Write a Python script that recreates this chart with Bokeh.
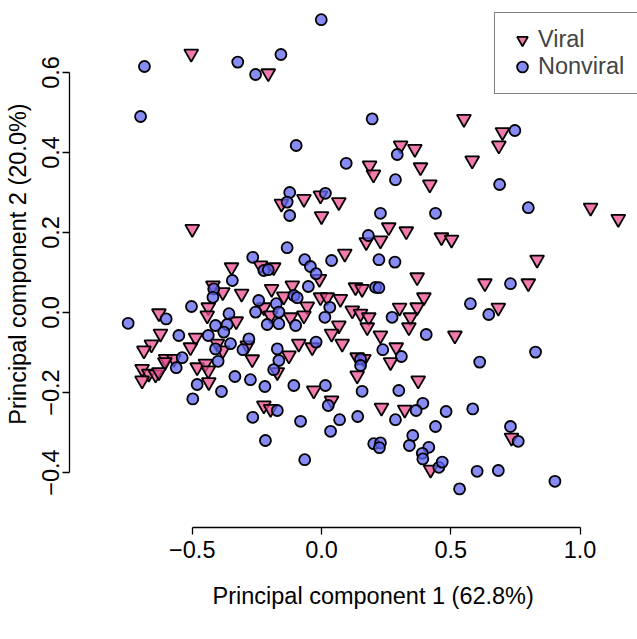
import math
from bokeh.plotting import figure
from bokeh.models import Range1d, FixedTicker, Legend, LegendItem, ColumnDataSource, Title
from bokeh.embed import file_html
from bokeh.resources import INLINE

# ---- data ----
viral_pc1 = [-0.504, -0.206, 0.186, 0.551, 0.700, 0.686, 0.306, 0.361, 0.583, 0.383, 0.201,
             -0.500, -0.348, -0.420, -0.382, -0.309, -0.438, -0.442, -0.629, -0.330,
             -0.155, -0.068, -0.004, 0.067, 0.000, 0.173, 0.090, -0.008, -0.236, -0.185,
             -0.113, -0.193, -0.146, -0.004, 0.022, 0.073, -0.223, -0.055, -0.068, -0.120,
             -0.197, 0.067, 0.1315, 0.157, 0.119, 0.151, 0.183, 0.177,
             0.419, 0.260, 0.328, 0.228, 0.464, 0.503, 0.370, 0.632, 0.396, 0.302, 0.370,
             0.344, 0.338, 0.684,
             1.041, 1.148, 0.834, 0.800,
             -0.623, -0.487, -0.658, -0.687, -0.507, -0.403, -0.382, -0.603, -0.571, -0.606,
             -0.694, -0.668, -0.642, -0.694, -0.629, -0.481, -0.449, -0.438, -0.436,
             -0.126, -0.088, -0.036, -0.268, -0.287, 0.039, 0.080, -0.171, 0.138, 0.164,
             0.138, -0.030, -0.223, -0.197, 0.039,
             0.228, 0.516, 0.289, 0.267, 0.374, 0.232, 0.322, 0.422,
             0.735]
viral_pc2 = [0.647, 0.598, 0.3675, 0.484, 0.451, 0.4175, 0.4175, 0.409, 0.380, 0.363, 0.345,
             0.209, 0.113, 0.0675, 0.051, 0.047, 0.013, -0.0075, -0.002, -0.022,
             0.272, 0.284, 0.2925, 0.276, 0.241, 0.176, 0.147, 0.084, 0.1175, 0.113,
             0.0675, 0.059, 0.040, 0.038, 0.038, 0.034, 0.013, 0.015, -0.0075, -0.012,
             -0.0075, -0.0325, 0.063, 0.059, 0.005, -0.003, -0.012, -0.037,
             0.320, 0.213, 0.203, 0.180, 0.188, 0.182, 0.088, 0.073, 0.038, 0.012, 0.013,
             -0.012, -0.037, 0.012,
             0.262, 0.234, 0.132, 0.073,
             -0.053, -0.063, -0.080, -0.095, -0.087, -0.078, -0.095, -0.116, -0.116, -0.124,
             -0.141, -0.153, -0.155, -0.170, -0.149, -0.137, -0.128, -0.145, -0.174,
             -0.1075, -0.078, -0.087, -0.117, -0.0825, -0.053, -0.078, -0.149, -0.112, -0.116,
             -0.1575, -0.195, -0.2325, -0.241, -0.220,
             -0.0575, -0.0575, -0.087, -0.124, -0.170, -0.238, -0.243, -0.393,
             -0.313]

nonviral_pc1 = [-0.685, -0.324, -0.700, -0.001, -0.157, -0.255, 0.196, -0.098, 0.0955, 0.748, 0.293,
                -0.345, -0.417, -0.420, -0.503, -0.358, -0.601, -0.748, -0.410, -0.365,
                -0.123, -0.133, 0.015, -0.123, 0.181, -0.133, -0.266, 0.039, -0.065, -0.043,
                -0.021, -0.223, -0.206, -0.051, -0.107, -0.094, -0.243, -0.175, -0.165, 0.032,
                0.013, -0.255, -0.210, -0.165, -0.100, 0.209,
                0.286, 0.689, 0.228, 0.441, 0.222, 0.284, 0.222, 0.273, 0.576, 0.647,
                0.800, 0.731,
                -0.552, -0.438, -0.378, -0.410, -0.352, -0.304, -0.539, -0.562, -0.400, -0.335,
                -0.481, -0.387, -0.498,
                -0.171, -0.165, -0.021, -0.281, -0.185, -0.275, -0.219, -0.107, 0.015, 0.151,
                0.151, 0.157, -0.171, -0.266, 0.026, -0.081, 0.070, 0.140, 0.035, -0.217, -0.065,
                0.405, 0.237, 0.309, 0.612, 0.299, 0.392, 0.366, 0.482, 0.585, 0.286, 0.441,
                0.353, 0.340, 0.415, 0.202, 0.228, 0.224, 0.390, 0.392, 0.454, 0.467, 0.602,
                0.684, 0.534,
                0.828, 0.731, 0.761, 0.903]
nonviral_pc2 = [0.615, 0.626, 0.490, 0.732, 0.645, 0.595, 0.484, 0.4175, 0.373, 0.455, 0.395,
                0.080, 0.059, 0.038, 0.015, -0.003, -0.016, -0.027, -0.0325, -0.030,
                0.300, 0.276, 0.298, 0.2425, 0.1925, 0.162, 0.138, 0.130, 0.132, 0.115,
                0.097, 0.105, 0.107, 0.065, 0.0425, 0.037, 0.030, 0.022, 0.001, 0.013,
                -0.012, 0.001, -0.030, -0.028, -0.0325, 0.063,
                0.332, 0.320, 0.248, 0.248, 0.132, 0.126, 0.062, -0.012, 0.022, -0.005,
                0.262, 0.072,
                -0.0575, -0.0575, -0.049, -0.091, -0.078, -0.093, -0.113, -0.138, -0.122, -0.160,
                -0.180, -0.1975, -0.216,
                -0.091, -0.120, -0.074, -0.066, -0.143, -0.168, -0.185, -0.1825, -0.1825, -0.116,
                -0.1325, -0.197, -0.245, -0.262, -0.2325, -0.272, -0.268, -0.260, -0.297, -0.320, -0.368,
                -0.055, -0.093, -0.110, -0.124, -0.195, -0.227, -0.245, -0.2475, -0.241, -0.268, -0.285,
                -0.3075, -0.3325, -0.337, -0.328, -0.326, -0.338, -0.352, -0.366, -0.387, -0.374, -0.397,
                -0.395, -0.441,
                -0.099, -0.285, -0.322, -0.422]

x_ticks = [-0.5, 0.0, 0.5, 1.0]
x_tick_labels = ["\u22120.5", "0.0", "0.5", "1.0"]
y_ticks = [-0.4, -0.2, 0.0, 0.2, 0.4, 0.6]
y_tick_labels = ["\u22120.4", "\u22120.2", "0.0", "0.2", "0.4", "0.6"]
series_labels = ["Viral", "Nonviral"]
x_title = "Principal component 1 (62.8%)"
y_title = "Principal component 2 (20.0%)"

FONT = "Liberation Sans"
FS = "23.5px"

p = figure(width=637, height=639, output_backend="svg", toolbar_location=None,
           x_range=Range1d(-0.9749, 1.2224), y_range=Range1d(-0.5375, 0.78),
           min_border_left=69, min_border_right=0, min_border_top=0, min_border_bottom=112)
p.outline_line_color = None
p.xgrid.visible = False
p.ygrid.visible = False
p.background_fill_color = "white"
p.border_fill_color = "white"

src_v = ColumnDataSource(dict(x=viral_pc1, y=viral_pc2))
src_n = ColumnDataSource(dict(x=nonviral_pc1, y=nonviral_pc2))

r_v = p.scatter("x", "y", source=src_v, marker="inverted_triangle", size=14,
                fill_color="#EE4E90", fill_alpha=0.75, line_color="black", line_width=1.8)
r_n = p.scatter("x", "y", source=src_n, marker="circle", size=11,
                fill_color="#5F66F2", fill_alpha=0.75, line_color="black", line_width=1.8)

for ax, ticks, labels in ((p.xaxis[0], x_ticks, x_tick_labels),
                          (p.yaxis[0], y_ticks, y_tick_labels)):
    ax.ticker = FixedTicker(ticks=ticks)
    ax.major_label_overrides = dict(zip(ticks, labels))
    ax.bounds = (ticks[0], ticks[-1])
    ax.axis_line_color = "black"
    ax.axis_line_width = 1.3
    ax.major_tick_line_color = "black"
    ax.major_tick_line_width = 1.3
    ax.major_tick_out = 7
    ax.major_tick_in = 0
    ax.minor_tick_line_color = None
    ax.major_label_text_font = FONT
    ax.major_label_text_font_size = FS
    ax.major_label_text_color = "black"
    ax.axis_label_text_font = FONT
    ax.axis_label_text_font_size = FS
    ax.axis_label_text_font_style = "normal"
    ax.axis_label_text_color = "black"

p.xaxis[0].major_label_standoff = 6
p.yaxis[0].axis_label = y_title
p.yaxis[0].major_label_orientation = "parallel"
p.yaxis[0].major_label_standoff = 4
p.yaxis[0].axis_label_standoff = 8

xt = Title(text=x_title, align="left", offset=143, standoff=41,
           text_font=FONT, text_font_size=FS, text_font_style="normal", text_color="black")
p.add_layout(xt, "below")

legend = Legend(items=[LegendItem(label=series_labels[0], renderers=[r_v]),
                       LegendItem(label=series_labels[1], renderers=[r_n])],
                location=(425, 433), margin=0, padding=13, spacing=0,
                glyph_width=28, glyph_height=27, label_height=27, label_standoff=2,
                label_text_font=FONT, label_text_font_size=FS,
                border_line_color="black", border_line_width=1.5,
                background_fill_color="white", background_fill_alpha=1.0)
p.add_layout(legend)

open("out.html", "w").write(file_html(p, INLINE))
